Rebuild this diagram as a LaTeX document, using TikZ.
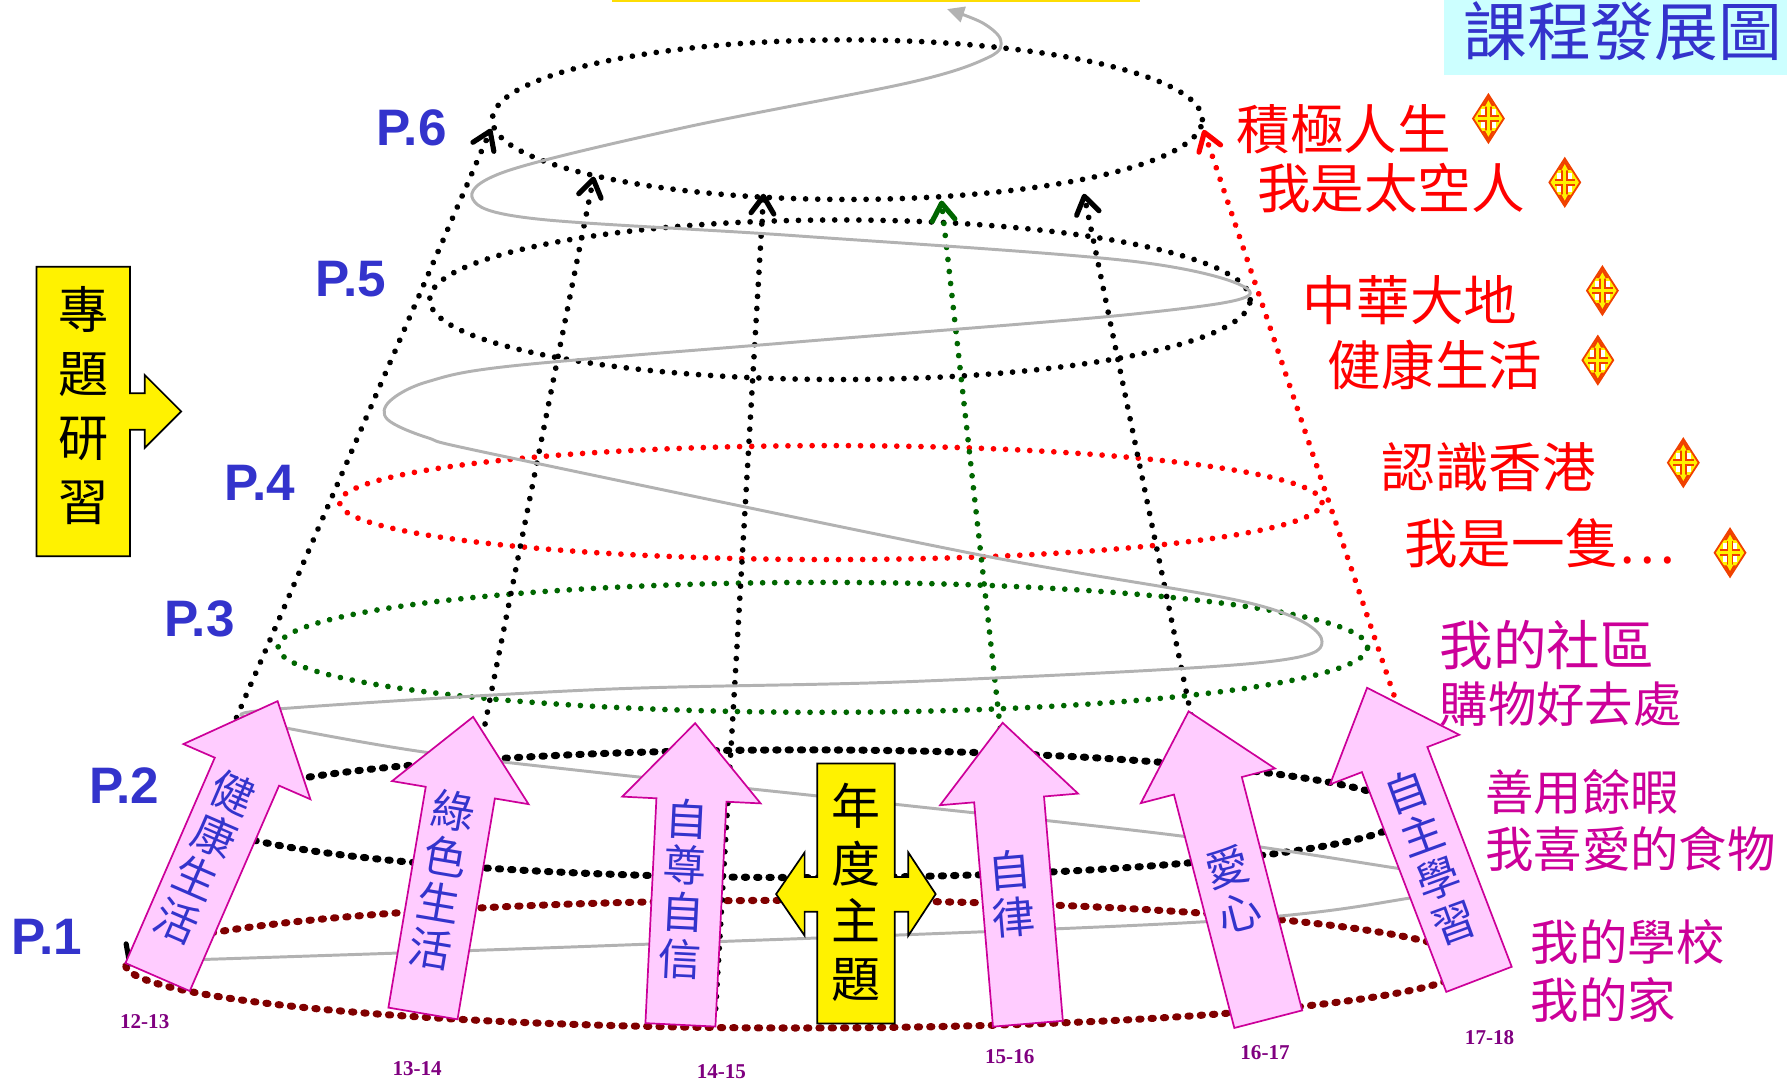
\documentclass[tikz,border=0pt]{standalone}
\usepackage{fontspec}
\setmainfont{Noto Sans CJK TC}
\newfontfamily\labelfont{Liberation Sans}
\newfontfamily\yearfont{Liberation Serif}
\usetikzlibrary{arrows.meta,shapes.arrows}

\definecolor{labelblue}{HTML}{3333CC}
\definecolor{pinkfill}{HTML}{FFCCFF}
\definecolor{pinkline}{HTML}{CC0099}
\definecolor{titlebg}{HTML}{CCFFFF}
\definecolor{darkdot}{HTML}{006600}
\definecolor{brown}{HTML}{800000}
\definecolor{spiral}{HTML}{B2B2B2}
\definecolor{yearpurple}{HTML}{800080}
\definecolor{crossline}{HTML}{F04000}

\tikzset{
    ring/.style={line width=5pt, line cap=round, dash pattern=on 0.01pt off 10.6pt},
    thickring/.style={line width=6.2pt, line cap=round, dash pattern=on 2pt off 8.8pt},
    stem/.style={line width=5pt, line cap=round, dash pattern=on 0.01pt off 10.6pt},
    barb/.tip={Straight Barb[length=15pt, width=20pt, line width=4.5pt, round]},
    themearrow/.style={shape=single arrow, anchor=tail, draw=pinkline, fill=pinkfill, line width=1.5pt,
        single arrow head extend=30pt, single arrow tip angle=84, inner xsep=0pt, inner ysep=30pt},
    arrowtext/.style={text=labelblue, align=center, font=\fontsize{38}{41}\selectfont},
    boxtext/.style={text=black, align=center},
    level/.style={text=labelblue, font=\labelfont\bfseries\fontsize{45}{45}\selectfont},
    unitred/.style={text=red, anchor=west, inner sep=0pt, font=\fontsize{47}{47}\selectfont},
    unitpink/.style={text=pinkline, anchor=west, inner sep=0pt, font=\fontsize{42.5}{42.5}\selectfont},
    year/.style={text=yearpurple, font=\yearfont\bfseries\fontsize{18.5}{18.5}\selectfont},
    crossmark/.pic={
        \draw[crossline, fill=yellow, line width=1.6pt] (0,-21) -- (13.5,0) -- (0,21) -- (-13.5,0) -- cycle;
        \fill[white] (3,-8.5) rectangle (6.5,-3);
        \fill[white] (-3,-8.5) rectangle (-6.5,-3);
        \fill[white] (3,8.5) rectangle (6.5,3);
        \fill[white] (-3,8.5) rectangle (-6.5,3);
        \draw[crossline, line width=6pt] (0,-13) -- (0,13) (-9,0) -- (9,0);
        \fill[crossline] (-5.5,-11) -- (0,-20) -- (5.5,-11) -- cycle (-5.5,11) -- (0,20) -- (5.5,11) -- cycle;
        \fill[yellow] (-3,-10.5) -- (0,-16) -- (3,-10.5) -- cycle (-3,10.5) -- (0,16) -- (3,10.5) -- cycle;
        \draw[yellow, line width=2.8pt] (0,-11) -- (0,11) (-10,0) -- (10,0);
    },
}

\begin{document}
\begin{tikzpicture}[x=1pt, y=-1pt]
    \useasboundingbox (0,0) rectangle (1568,952);

    % Top rule and title
    \draw[color=yellow!80!orange, line width=2pt] (537,0.5) -- (1000,0.5);
    \node[fill=titlebg, minimum width=301pt, minimum height=66pt, inner sep=0pt] (titlebox) at (1417.5,33) {};
    \node[text=labelblue, inner sep=0pt, font=\fontsize{56}{56}\selectfont] (title) at (1424,27) {課程發展圖};

    % Rings of the spiral, one for each level
    \draw[ring] (743.5,105) ellipse [x radius=311.5pt, y radius=70pt];
    \draw[ring] (737,263) ellipse [x radius=360pt, y radius=70pt];
    \draw[ring, color=red] (729,441) ellipse [x radius=431pt, y radius=50pt];
    \draw[ring, color=darkdot] (722,568) ellipse [x radius=478pt, y radius=57pt];
    \draw[thickring] (705,714) ellipse [x radius=530pt, y radius=56pt];
    \draw[thickring, color=brown] (700,846) ellipse [x radius=590pt, y radius=56pt];

    % Ends of the dotted stems
    \coordinate (foot1) at (113,848);
    \coordinate (head1) at (431,113);
    \coordinate (foot2) at (376,885);
    \coordinate (head2) at (521,155);
    \coordinate (foot3) at (628,885);
    \coordinate (head3) at (670,170);
    \coordinate (foot4) at (880,660);
    \coordinate (head4) at (826,176);
    \coordinate (foot5) at (1060,700);
    \coordinate (head5) at (951,170);
    \coordinate (foot6) at (1240,660);
    \coordinate (head6) at (1056,114);

    % Stems
    \draw[stem, {barb}-{barb}] (foot1) -- (head1);
    \draw[stem, -{barb}] (foot2) -- (head2);
    \draw[stem, -{barb}] (foot3) -- (head3);
    \draw[stem, color=darkdot, -{barb}] (foot4) -- (head4);
    \draw[stem, -{barb}] (foot5) -- (head5);
    \draw[stem, color=red, -{barb}] (foot6) -- (head6);

    % Grey spiral
    \draw[color=spiral, line width=2.6pt, -{Triangle[length=15pt, width=14pt]}]
        plot[smooth, tension=0.55] coordinates {
            (175,842) (526,830) (1053,809) (1237,788) (1290,772) (1227,762) (1040,734)
            (788,706) (526,678) (373,660) (252,639) (215,630) (245,622) (526,605)
            (800,598) (1100,582) (1160,563) (1100,530) (860,487) (440,400) (375,384)
            (340,368) (342,352) (375,335) (450,321) (700,300) (1000,275) (1097,257) (1000,230) (700,207)
            (470,192) (415,175) (445,150) (600,112) (800,72) (868,50) (878,35) (862,20) (831,8)};

    % Pink arrows
    \node[themearrow, minimum height=264pt, rotate=66.5] (health) at (138,858) {};
    \node[themearrow, minimum height=264pt, rotate=80.4] (green) at (371,890) {};
    \node[themearrow, minimum height=265pt, rotate=87.2] (esteem) at (597,900) {};
    \node[themearrow, minimum height=265pt, rotate=94.8] (discipline) at (902,899) {};
    \node[themearrow, minimum height=279pt, rotate=104.5] (love) at (1113,895) {};
    \node[themearrow, minimum height=274pt, rotate=111] (study) at (1298,860) {};

    % Text inside the arrows
    \node[arrowtext, rotate=-23.5] (healthtext) at (180,752) {健\\康\\生\\活};
    \node[arrowtext, rotate=-9.6] (greentext) at (388,772) {綠\\色\\生\\活};
    \node[arrowtext, rotate=-2.8] (esteemtext) at (600,780) {自\\尊\\自\\信};
    \node[arrowtext, rotate=4.8] (disciplinetext) at (888,784) {自\\律};
    \node[arrowtext, rotate=14.5] (lovetext) at (1082,780) {愛\\心};
    \node[arrowtext, rotate=20] (studytext) at (1255,752) {自\\主\\學\\習};

    % Yellow cross in the middle
    \draw[fill=yellow, line width=1.5pt] (717,670) -- (785,670) -- (785,769.5) -- (797,769.5) -- (797,748)
        -- (821,784.5) -- (797,821) -- (797,800) -- (785,800) -- (785,898) -- (717,898) -- (717,800)
        -- (706,800) -- (706,821) -- (681,784.5) -- (706,748) -- (706,769.5) -- (717,769.5) -- cycle;
    \node[boxtext, font=\fontsize{43}{50.5}\selectfont] (theme) at (751,783) {年\\度\\主\\題};

    % Yellow box on the left
    \draw[fill=yellow, line width=1.5pt] (32,234) -- (114,234) -- (114,345) -- (127,345) -- (127,329)
        -- (159,361) -- (127,393) -- (127,377) -- (114,377) -- (114,488) -- (32,488) -- cycle;
    \node[boxtext, font=\fontsize{44}{56}\selectfont] (project) at (73,356) {專\\題\\研\\習};

    % Level labels
    \node[level] (p6) at (361,112) {P.6};
    \node[level] (p5) at (308,245) {P.5};
    \node[level] (p4) at (228,424) {P.4};
    \node[level] (p3) at (175,543) {P.3};
    \node[level] (p2) at (109,689) {P.2};
    \node[level] (p1) at (41,822) {P.1};

    % Units on the right
    \node[unitred] (unit1) at (1085,113) {積極人生};
    \node[unitred] (unit2) at (1103,165) {我是太空人};
    \node[unitred] (unit3) at (1143,263) {中華大地};
    \node[unitred] (unit4) at (1165,320) {健康生活};
    \node[unitred] (unit5) at (1212,410) {認識香港};
    \node[unitred] (unit6) at (1232,477) {我是一隻…};
    \node[unitpink, font=\fontsize{47}{47}\selectfont] (unit7) at (1263,566) {我的社區};
    \node[unitpink] (unit8) at (1263,618) {購物好去處};
    \node[unitpink] (unit9) at (1303,695) {善用餘暇};
    \node[unitpink] (unit10) at (1303,745) {我喜愛的食物};
    \node[unitpink] (unit11) at (1343,827) {我的學校};
    \node[unitpink] (unit12) at (1343,877) {我的家};

    % Cross marks
    \pic at (1306,104) {crossmark};
    \pic at (1373,160) {crossmark};
    \pic at (1406,255) {crossmark};
    \pic at (1402,316) {crossmark};
    \pic at (1477,406) {crossmark};
    \pic at (1518,485) {crossmark};

    % Page numbers
    \node[year] (pages1) at (127,896) {12-13};
    \node[year] (pages2) at (366,938) {13-14};
    \node[year] (pages3) at (633,940) {14-15};
    \node[year] (pages4) at (886,927) {15-16};
    \node[year] (pages5) at (1110,924) {16-17};
    \node[year] (pages6) at (1307,910) {17-18};
\end{tikzpicture}
\end{document}
